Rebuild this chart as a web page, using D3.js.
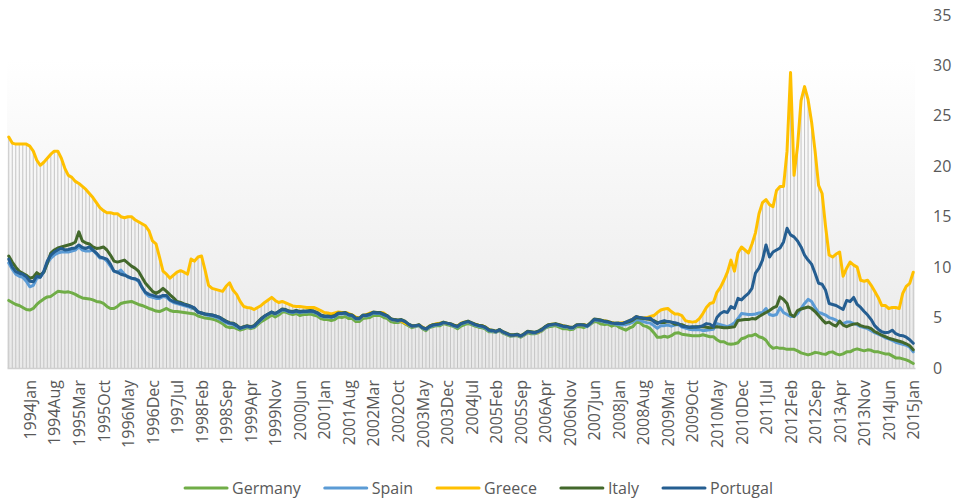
<!DOCTYPE html>
<html>
<head>
<meta charset="utf-8">
<script src="https://cdn.jsdelivr.net/npm/d3@7"></script>
<style>
  body { margin: 0; background: #fff; }
  text { font-family: 'Open Sans', sans-serif; fill: #595959; }
</style>
</head>
<body>
<svg id="chart" width="958" height="500"></svg>
<script>
// monthly series, 1993Jul .. 2015Jan (one row per year)
const germany = [
  6.7, 6.5, 6.3, 6.2, 6.0, 5.8,
  5.75, 5.9, 6.3, 6.6, 6.85, 7.05, 7.1, 7.35, 7.6, 7.55, 7.5, 7.55,
  7.45, 7.3, 7.1, 6.95, 6.9, 6.85, 6.75, 6.6, 6.55, 6.4, 6.1, 5.9,
  5.9, 6.1, 6.4, 6.5, 6.55, 6.6, 6.45, 6.3, 6.2, 6.05, 5.9, 5.8,
  5.65, 5.6, 5.75, 5.9, 5.7, 5.6, 5.6, 5.55, 5.5, 5.45, 5.4, 5.35,
  5.15, 5.05, 4.95, 4.9, 4.85, 4.75, 4.6, 4.4, 4.1, 4.0, 4.05, 3.9,
  3.75, 3.85, 4.0, 3.9, 4.0, 4.3, 4.6, 4.8, 5.0, 5.25, 5.05, 5.25,
  5.55, 5.55, 5.4, 5.3, 5.4, 5.2, 5.3, 5.3, 5.35, 5.25, 5.15, 4.9,
  4.8, 4.8, 4.7, 4.8, 5.05, 5.0, 5.1, 4.9, 4.9, 4.6, 4.6, 4.9,
  4.95, 5.0, 5.2, 5.2, 5.2, 5.0, 4.9, 4.6, 4.5, 4.5, 4.6, 4.4,
  4.2, 4.0, 4.1, 4.2, 3.9, 3.7, 4.0, 4.1, 4.2, 4.2, 4.4, 4.3,
  4.2, 4.1, 3.9, 4.15, 4.3, 4.4, 4.3, 4.15, 4.05, 4.0, 3.85, 3.6,
  3.6, 3.55, 3.7, 3.45, 3.3, 3.15, 3.2, 3.2, 3.05, 3.25, 3.5, 3.4,
  3.4, 3.5, 3.65, 3.95, 4.1, 4.15, 4.2, 4.05, 3.9, 3.9, 3.8, 3.85,
  4.1, 4.1, 4.0, 4.15, 4.35, 4.6, 4.55, 4.35, 4.3, 4.35, 4.15, 4.3,
  4.05, 3.9, 3.75, 3.95, 4.1, 4.5, 4.5, 4.2, 4.1, 3.9, 3.5, 3.05,
  3.05, 3.15, 3.05, 3.2, 3.45, 3.5, 3.35, 3.3, 3.25, 3.2, 3.2, 3.2,
  3.3, 3.2, 3.1, 3.1, 2.8, 2.6, 2.6, 2.4, 2.35, 2.4, 2.5, 2.9,
  3.0, 3.2, 3.2, 3.35, 3.1, 3.0, 2.75, 2.25, 1.95, 2.05, 1.95, 1.95,
  1.85, 1.85, 1.85, 1.7, 1.5, 1.4, 1.3, 1.4, 1.55, 1.5, 1.4, 1.35,
  1.55, 1.6, 1.4, 1.3, 1.4, 1.6, 1.6, 1.8, 1.9, 1.8, 1.7, 1.8,
  1.75, 1.6, 1.6, 1.5, 1.4, 1.4, 1.2, 1.0, 1.0, 0.9, 0.8, 0.65,
  0.45
]
const spain = [
  10.4, 9.8, 9.3, 9.1, 9.0, 8.6,
  8.05, 8.2, 8.9, 9.0, 9.5, 10.4, 10.9, 11.2, 11.4, 11.5, 11.5, 11.5,
  11.6, 11.7, 12.0, 11.7, 11.6, 11.6, 11.7, 11.3, 10.9, 10.9, 10.6, 10.1,
  9.6, 9.5, 9.7, 9.3, 9.0, 8.9, 8.8, 8.6, 8.0, 7.4, 7.1, 7.0,
  6.9, 6.9, 7.1, 7.0, 6.7, 6.5, 6.4, 6.3, 6.2, 6.1, 5.95, 5.85,
  5.5, 5.4, 5.3, 5.2, 5.15, 5.05, 4.9, 4.7, 4.5, 4.35, 4.3, 4.1,
  3.9, 4.0, 4.1, 4.0, 4.1, 4.45, 4.8, 5.1, 5.3, 5.5, 5.35, 5.5,
  5.75, 5.7, 5.55, 5.5, 5.6, 5.5, 5.55, 5.55, 5.6, 5.55, 5.4, 5.15,
  5.05, 5.05, 5.0, 5.1, 5.35, 5.35, 5.4, 5.2, 5.15, 4.85, 4.85, 5.15,
  5.15, 5.25, 5.45, 5.4, 5.4, 5.25, 5.1, 4.8, 4.7, 4.65, 4.7, 4.55,
  4.3, 4.1, 4.15, 4.2, 3.95, 3.8, 4.05, 4.2, 4.25, 4.3, 4.45, 4.4,
  4.3, 4.15, 4.05, 4.35, 4.45, 4.55, 4.4, 4.25, 4.15, 4.1, 3.95, 3.7,
  3.65, 3.55, 3.75, 3.5, 3.35, 3.2, 3.2, 3.25, 3.1, 3.3, 3.55, 3.5,
  3.45, 3.55, 3.7, 4.0, 4.2, 4.25, 4.3, 4.2, 4.1, 4.05, 3.95, 3.95,
  4.2, 4.25, 4.2, 4.1, 4.4, 4.75, 4.7, 4.65, 4.55, 4.5, 4.4, 4.35,
  4.3, 4.25, 4.3, 4.4, 4.55, 4.8, 4.75, 4.6, 4.5, 4.45, 4.2, 3.95,
  4.2, 4.2, 4.25, 4.15, 4.25, 4.3, 4.05, 3.95, 3.85, 3.8, 3.8, 3.8,
  3.7, 3.75, 3.8, 3.85, 4.4, 4.3, 4.2, 4.1, 4.25, 4.5, 4.9, 5.4,
  5.35, 5.3, 5.3, 5.35, 5.45, 5.5, 5.9, 5.3, 5.2, 5.3, 6.0, 5.5,
  5.3, 5.1, 5.1, 5.4, 5.9, 6.4, 6.8, 6.6, 6.0, 5.5, 5.4, 5.25,
  5.0, 4.9, 4.75, 4.5, 4.4, 4.55, 4.55, 4.4, 4.3, 4.1, 4.0, 3.9,
  3.7, 3.5, 3.35, 3.2, 3.0, 2.9, 2.75, 2.55, 2.45, 2.35, 2.25, 2.05,
  1.6
]
const greece = [
  22.9, 22.3, 22.2, 22.2, 22.2, 22.2,
  22.0, 21.5, 20.6, 20.1, 20.4, 20.8, 21.2, 21.5, 21.5, 20.8, 19.8, 19.1,
  18.9, 18.5, 18.3, 18.0, 17.7, 17.3, 16.9, 16.4, 15.9, 15.6, 15.4, 15.4,
  15.3, 15.3, 15.0, 14.9, 15.0, 15.0, 14.7, 14.5, 14.3, 14.1, 13.6, 12.6,
  12.3, 11.0, 9.6, 9.3, 8.9, 9.2, 9.5, 9.65, 9.5, 9.3, 10.8, 10.6,
  11.0, 11.1, 9.7, 8.2, 7.9, 7.8, 7.7, 7.6, 8.1, 8.45, 7.7, 7.3,
  6.6, 6.1, 6.0, 5.95, 5.8, 6.0, 6.2, 6.5, 6.75, 7.0, 6.7, 6.5,
  6.6, 6.45, 6.3, 6.15, 6.1, 6.1, 6.05, 6.0, 6.0, 6.0, 5.85, 5.7,
  5.5, 5.45, 5.35, 5.45, 5.55, 5.5, 5.5, 5.4, 5.25, 5.05, 4.95, 5.15,
  5.3, 5.45, 5.5, 5.5, 5.5, 5.45, 5.15, 4.85, 4.75, 4.7, 4.65, 4.45,
  4.3, 4.15, 4.2, 4.25, 4.05, 3.85, 4.15, 4.3, 4.4, 4.45, 4.5, 4.45,
  4.35, 4.25, 4.15, 4.45, 4.55, 4.6, 4.45, 4.35, 4.25, 4.2, 4.05, 3.8,
  3.7, 3.6, 3.8, 3.55, 3.4, 3.25, 3.25, 3.3, 3.15, 3.35, 3.6, 3.55,
  3.5, 3.55, 3.75, 4.05, 4.3, 4.35, 4.35, 4.3, 4.2, 4.1, 4.05, 4.0,
  4.25, 4.3, 4.3, 4.2, 4.45, 4.8, 4.8, 4.7, 4.65, 4.6, 4.5, 4.4,
  4.45, 4.5, 4.55, 4.7, 4.85, 5.1, 5.0, 4.95, 5.0, 5.1, 5.2, 5.5,
  5.75, 5.85, 5.9, 5.6, 5.35, 5.35, 5.2, 4.7, 4.6, 4.55, 4.6, 4.9,
  5.4, 6.0, 6.4, 6.5, 7.5, 8.0, 8.7, 9.5, 10.7, 9.6, 11.4, 12.0,
  11.7, 11.4, 12.3, 13.4, 15.3, 16.4, 16.7, 16.2, 16.0, 17.6, 18.0, 18.0,
  21.5, 29.3, 19.1, 22.0, 26.5, 27.9, 26.6, 24.4, 21.5, 18.1, 17.3, 14.0,
  11.2, 11.0, 11.3, 11.5, 9.1, 9.9, 10.5, 10.2, 10.0, 8.7, 8.6, 8.7,
  8.2, 7.6, 7.0, 6.2, 6.2, 5.9, 6.0, 6.0, 5.9, 7.4, 8.1, 8.4,
  9.5
]
const italy = [
  11.1, 10.5, 10.0, 9.6, 9.4, 9.2,
  8.9, 9.0, 9.45, 9.2, 9.5, 10.4, 11.4, 11.7, 11.9, 12.0, 12.1, 12.2,
  12.3, 12.5, 13.5, 12.6, 12.4, 12.3, 12.0, 11.85, 11.9, 12.0, 11.7, 11.2,
  10.6, 10.5, 10.6, 10.7, 10.4, 10.1, 9.9, 9.6, 9.0, 8.4, 8.0, 7.6,
  7.4, 7.6, 7.9, 7.6, 7.25, 6.95, 6.6, 6.5, 6.35, 6.25, 6.1, 5.9,
  5.55, 5.45, 5.35, 5.3, 5.25, 5.15, 5.05, 4.85, 4.65, 4.5, 4.45, 4.25,
  3.95, 4.1, 4.2, 4.1, 4.2, 4.55, 4.9, 5.15, 5.35, 5.55, 5.4, 5.6,
  5.85, 5.8, 5.65, 5.6, 5.7, 5.6, 5.65, 5.65, 5.7, 5.65, 5.5, 5.25,
  5.15, 5.15, 5.1, 5.2, 5.45, 5.45, 5.5, 5.3, 5.25, 4.95, 4.95, 5.25,
  5.25, 5.35, 5.55, 5.5, 5.5, 5.35, 5.2, 4.9, 4.8, 4.75, 4.8, 4.65,
  4.35, 4.2, 4.2, 4.3, 4.0, 3.9, 4.15, 4.3, 4.35, 4.4, 4.55, 4.45,
  4.4, 4.25, 4.15, 4.4, 4.55, 4.65, 4.5, 4.35, 4.25, 4.2, 4.05, 3.8,
  3.75, 3.65, 3.8, 3.6, 3.45, 3.3, 3.3, 3.35, 3.2, 3.4, 3.65, 3.6,
  3.55, 3.65, 3.85, 4.1, 4.3, 4.35, 4.4, 4.3, 4.2, 4.15, 4.05, 4.05,
  4.3, 4.3, 4.3, 4.2, 4.5, 4.85, 4.8, 4.75, 4.65, 4.6, 4.5, 4.45,
  4.45, 4.4, 4.5, 4.6, 4.75, 5.0, 4.95, 4.9, 4.85, 4.8, 4.7, 4.5,
  4.5, 4.5, 4.6, 4.55, 4.35, 4.35, 4.3, 4.15, 4.05, 4.05, 4.1, 4.1,
  4.1, 4.05, 4.0, 4.05, 4.1, 4.05, 4.0, 4.0, 4.05, 4.1, 4.7, 4.75,
  4.8, 4.8, 4.9, 4.85, 5.1, 5.3, 5.5, 5.7, 5.95, 6.1, 7.05, 6.8,
  6.4, 5.3, 5.1, 5.7, 5.85, 5.95, 6.05, 5.9, 5.6, 5.2, 4.8, 4.45,
  4.55, 4.3, 4.15, 4.65, 4.25, 4.1, 4.25, 4.35, 4.4, 4.2, 4.1, 4.05,
  3.9, 3.6, 3.45, 3.25, 3.1, 2.95, 2.85, 2.75, 2.65, 2.55, 2.4, 2.2,
  1.8
]
const portugal = [
  10.8, 10.0, 9.55, 9.4, 9.3, 9.05,
  8.6, 8.55, 9.1, 9.0, 9.6, 10.6, 11.2, 11.5, 11.7, 11.85, 11.7, 11.75,
  11.85, 11.9, 12.2, 11.95, 11.85, 12.0, 11.7, 11.4, 11.0, 10.9, 10.8, 10.3,
  9.6, 9.5, 9.3, 9.2, 9.05, 8.9, 8.85, 8.7, 8.0, 7.5, 7.3, 7.2,
  7.1, 7.05, 7.2, 7.2, 6.75, 6.6, 6.5, 6.4, 6.3, 6.2, 6.1, 5.95,
  5.55, 5.45, 5.35, 5.3, 5.25, 5.15, 5.05, 4.8, 4.6, 4.45, 4.4, 4.2,
  3.95, 4.05, 4.15, 4.05, 4.15, 4.5, 4.85, 5.15, 5.35, 5.55, 5.4, 5.6,
  5.8, 5.75, 5.6, 5.55, 5.65, 5.55, 5.6, 5.6, 5.65, 5.6, 5.45, 5.2,
  5.1, 5.1, 5.05, 5.15, 5.4, 5.4, 5.45, 5.25, 5.2, 4.9, 4.9, 5.2,
  5.2, 5.3, 5.5, 5.45, 5.45, 5.3, 5.15, 4.85, 4.75, 4.7, 4.75, 4.6,
  4.35, 4.15, 4.2, 4.25, 4.0, 3.85, 4.1, 4.25, 4.3, 4.35, 4.5, 4.45,
  4.35, 4.2, 4.1, 4.4, 4.5, 4.6, 4.45, 4.3, 4.2, 4.15, 4.0, 3.75,
  3.7, 3.6, 3.8, 3.55, 3.4, 3.25, 3.25, 3.3, 3.15, 3.35, 3.6, 3.55,
  3.5, 3.6, 3.75, 4.05, 4.25, 4.3, 4.35, 4.25, 4.15, 4.1, 4.0, 4.0,
  4.25, 4.3, 4.25, 4.15, 4.45, 4.8, 4.75, 4.7, 4.6, 4.55, 4.45, 4.4,
  4.4, 4.4, 4.55, 4.7, 4.85, 5.1, 5.0, 4.95, 4.9, 4.95, 4.6, 4.4,
  4.6, 4.7, 4.6, 4.55, 4.5, 4.4, 4.15, 4.1, 4.05, 4.1, 4.05, 4.1,
  4.2, 4.4, 4.35, 4.1, 5.0, 5.4, 5.6, 5.5, 6.1, 5.9, 6.9, 6.75,
  7.1, 7.4, 7.9, 9.4, 9.9, 10.7, 12.2, 11.0, 11.5, 11.7, 11.9, 12.5,
  13.85, 13.2, 13.0, 12.6, 12.0, 11.2, 10.7, 10.3, 9.4, 8.4, 8.3, 7.7,
  6.4, 6.3, 6.2, 6.0, 5.8, 6.7, 6.6, 7.0, 6.3, 6.0, 5.6, 5.25,
  4.8, 4.2, 3.85, 3.6, 3.5, 3.55, 3.75, 3.4, 3.25, 3.2, 3.05, 2.8,
  2.45
]
const tickLabels = ['1994Jan', '1994Aug', '1995Mar', '1995Oct', '1996May', '1996Dec', '1997Jul',
  '1998Feb', '1998Sep', '1999Apr', '1999Nov', '2000Jun', '2001Jan', '2001Aug', '2002Mar',
  '2002Oct', '2003May', '2003Dec', '2004Jul', '2005Feb', '2005Sep', '2006Apr', '2006Nov',
  '2007Jun', '2008Jan', '2008Aug', '2009Mar', '2009Oct', '2010May', '2010Dec', '2011Jul',
  '2012Feb', '2012Sep', '2013Apr', '2013Nov', '2014Jun', '2015Jan']
const firstTick = 6   // 1994Jan is the 7th month of the series
const tickStep = 7
const yTicks = [0, 5, 10, 15, 20, 25, 30, 35]

const series = [
  {name: 'Germany', values: germany, color: '#70ad47'},
  {name: 'Spain', values: spain, color: '#5b9bd5'},
  {name: 'Greece', values: greece, color: '#ffc000'},
  {name: 'Italy', values: italy, color: '#43682b'},
  {name: 'Portugal', values: portugal, color: '#255e91'}
]

const svg = d3.select('#chart')
const plot = {left: 7, right: 915, top: 60, bottom: 368}
const fontSize = '16px'
const n = germany.length

const x = d3.scalePoint()
  .domain(d3.range(n))
  .range([plot.left, plot.right])
  .padding(0.5)
const y = d3.scaleLinear()
  .domain([0, 35])
  .range([plot.bottom, 15])

// plot area background
const grad = svg.append('defs').append('linearGradient')
  .attr('id', 'bg').attr('x1', 0).attr('y1', 0).attr('x2', 0).attr('y2', 1)
grad.append('stop').attr('offset', '0%').attr('stop-color', '#ffffff')
grad.append('stop').attr('offset', '100%').attr('stop-color', '#e9e9e9')
svg.append('rect')
  .attr('x', plot.left).attr('y', plot.top)
  .attr('width', plot.right - plot.left).attr('height', plot.bottom - plot.top)
  .style('fill', 'url(#bg)')

// drop lines from the highest series down to the axis
const maxVals = d3.range(n).map(i => d3.max(series, s => s.values[i]))
svg.append('g')
  .selectAll('line')
  .data(maxVals)
  .enter()
  .append('line')
  .attr('x1', (d, i) => x(i))
  .attr('x2', (d, i) => x(i))
  .attr('y1', y(0))
  .attr('y2', d => y(d))
  .style('stroke', '#c4c4c4')
  .style('stroke-width', 1)

// x axis
const xAxis = svg.append('g')
  .attr('transform', `translate(0, ${plot.bottom})`)
  .call(d3.axisBottom(x)
    .tickValues(tickLabels.map((d, k) => firstTick + k * tickStep))
    .tickFormat((d, k) => tickLabels[k])
    .tickSize(0))
xAxis.select('.domain').style('stroke', '#d0d0d0').style('stroke-width', 1.5)
xAxis.selectAll('text')
  .style('font-size', fontSize)
  .style('font-family', "'Open Sans', sans-serif")
  .attr('fill', '#595959')
  .attr('text-anchor', 'end')
  .attr('transform', 'rotate(-90)')
  .attr('x', -12)
  .attr('y', 0)
  .attr('dy', '0.35em')

// y axis on the right
const yAxis = svg.append('g')
  .attr('transform', `translate(925, 0)`)
  .call(d3.axisRight(y).tickValues(yTicks).tickSize(0).tickPadding(8))
yAxis.select('.domain').remove()
yAxis.selectAll('text')
  .style('font-size', fontSize)
  .style('font-family', "'Open Sans', sans-serif")
  .attr('fill', '#595959')

// lines
const line = d3.line()
  .x((d, i) => x(i))
  .y(d => y(d))
series.forEach(s => {
  svg.append('path')
    .datum(s.values)
    .style('fill', 'none')
    .style('stroke', s.color)
    .style('stroke-width', 3)
    .style('stroke-linejoin', 'round')
    .style('stroke-linecap', 'round')
    .attr('d', line)
})

// legend, centred under the chart
const swatch = 42
const legend = svg.append('g')
let lx = 0
series.forEach((s, k) => {
  const item = legend.append('g').attr('transform', `translate(${lx}, 0)`)
  item.append('line')
    .attr('x1', 0).attr('x2', swatch).attr('y1', 0).attr('y2', 0)
    .style('stroke', s.color)
    .style('stroke-width', 3)
    .style('stroke-linecap', 'round')
  const t = item.append('text')
    .attr('x', swatch + 5).attr('y', 0).attr('dy', '0.35em')
    .style('font-size', fontSize)
    .text(s.name)
  lx += swatch + 5 + t.node().getComputedTextLength() + (k < series.length - 1 ? 24 : 0)
})
legend.attr('transform', `translate(${479 - lx / 2}, 488)`)
</script>
</body>
</html>
